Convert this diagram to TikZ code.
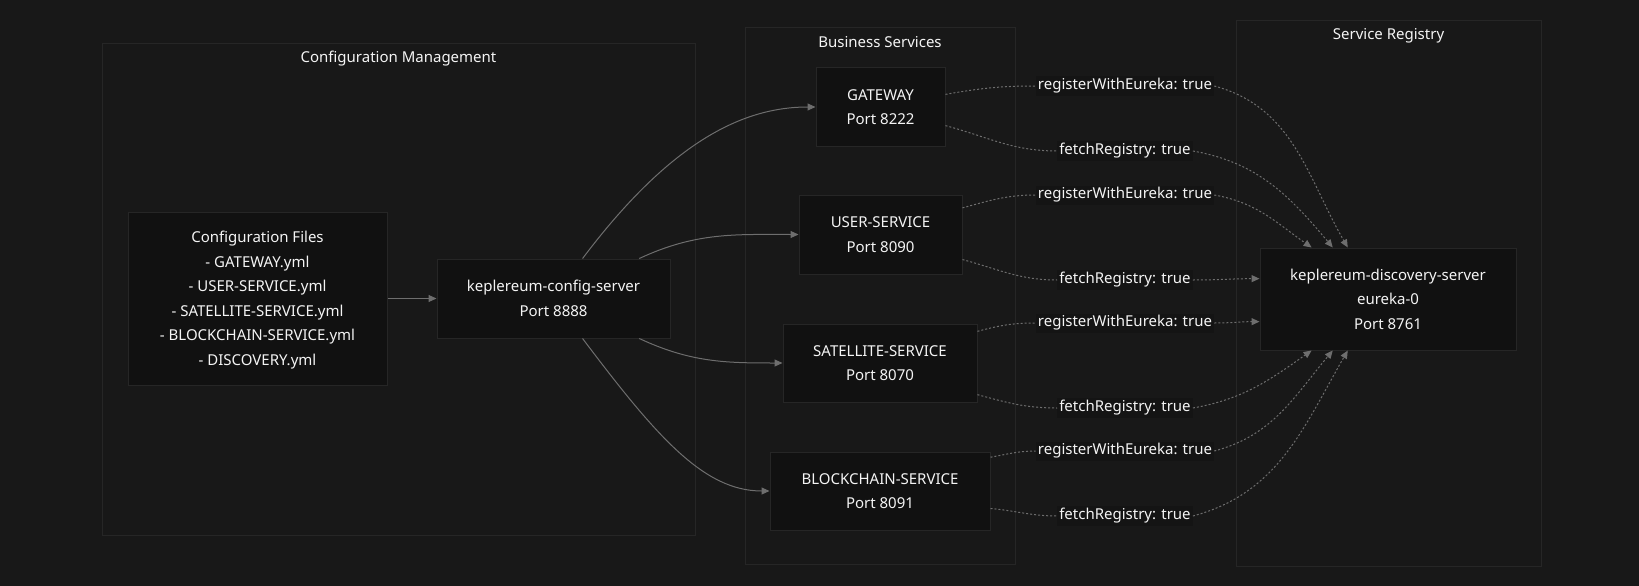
\documentclass[tikz,border=0pt]{standalone}
\usepackage{fontspec}
\setmainfont{Noto Sans}
\usetikzlibrary{positioning, arrows.meta}
\definecolor{bgc}{HTML}{181818}
\definecolor{boxc}{HTML}{111111}
\definecolor{edgec}{HTML}{262626}
\definecolor{linkc}{HTML}{6E6E6E}
\definecolor{txtc}{HTML}{F4F4F4}
\tikzset{
	x=1pt, y=1pt,
	>={Triangle[length=8pt,width=7pt]},
	txt/.style={text=txtc, font=\fontsize{15}{24.5}\selectfont, align=center},
	group/.style={draw=edgec, line width=1pt, inner sep=0pt},
	title/.style={txt, inner sep=0pt},
	svc/.style={txt, draw=edgec, fill=boxc, line width=1pt, inner sep=0pt, text depth=-3pt},
	lbl/.style={txt, fill=bgc!85!black, inner sep=2pt},
	link/.style={->, draw=linkc, line width=1pt},
	reglink/.style={link, dash pattern=on 2pt off 2pt},
	regpart/.style={reglink, -}}

\begin{document}
\begin{tikzpicture}

		\fill[bgc] (0,0) rectangle (1639,-586);
		\useasboundingbox (0,0) rectangle (1639,-586);

		\node[group, minimum width=593, minimum height=491] (cfg) at (398.5,-289.5) {};
		\node[group, minimum width=270, minimum height=536] (biz) at (880,-296) {};
		\node[group, minimum width=305, minimum height=545] (reg) at (1388.5,-293.5) {};
		\node[title] (cfgT) at ([yshift=-15pt]cfg.north) {Configuration Management};
		\node[title] (bizT) at ([yshift=-15pt]biz.north) {Business Services};
		\node[title] (regT) at ([yshift=-15pt]reg.north) {Service Registry};

		\node[svc, minimum width=259, minimum height=173] (files) at (257.5,-298.5) {Configuration Files\\- GATEWAY.yml\\- USER-SERVICE.yml\\- SATELLITE-SERVICE.yml\\- BLOCKCHAIN-SERVICE.yml\\- DISCOVERY.yml};
		\node[svc, minimum width=233, minimum height=79] (srv) at (553.5,-298.5) {keplereum-config-server\\Port 8888};

		\node[svc, minimum width=129, minimum height=78] (gw) at (880.5,-107) {GATEWAY\\Port 8222};
		\node[svc, minimum width=163, minimum height=79] (usr) at (880.5,-234.5) {USER-SERVICE\\Port 8090};
		\node[svc, minimum width=194, minimum height=78] (sat) at (880,-363) {SATELLITE-SERVICE\\Port 8070};
		\node[svc, minimum width=220, minimum height=78] (bc) at (880,-491) {BLOCKCHAIN-SERVICE\\Port 8091};

		\node[svc, minimum width=256, minimum height=102] (disc) at (1388,-299) {keplereum-discovery-server\\eureka-0\\Port 8761};

		\node[lbl] (r1) at (1125,-86) {registerWithEureka: true};
		\node[lbl] (f1) at (1125,-151) {fetchRegistry: true};
		\node[lbl] (r2) at (1125,-195) {registerWithEureka: true};
		\node[lbl] (f2) at (1125,-280) {fetchRegistry: true};
		\node[lbl] (r3) at (1125,-323) {registerWithEureka: true};
		\node[lbl] (f3) at (1125,-408) {fetchRegistry: true};
		\node[lbl] (r4) at (1125,-451) {registerWithEureka: true};
		\node[lbl] (f4) at (1125,-516) {fetchRegistry: true};

		\draw
		(files) edge[link] (srv)
		(srv.54) edge[link, out=53, in=180, out looseness=1.3, in looseness=0.7] (gw.west)
		(srv.25) edge[link, out=25, in=180] (usr.west)
		(srv.-25) edge[link, out=-25, in=180] (sat.west)
		(srv.-54) edge[link, out=-53, in=180, out looseness=1.3, in looseness=0.7] (bc.west)
		;

		\draw
		(gw.11) edge[regpart, out=10, in=180] (r1.west)
		(gw.-16) edge[regpart, out=-15, in=180] (f1.west)
		(usr.18) edge[regpart, out=15, in=180] (r2.west)
		(usr.-17) edge[regpart, out=-15, in=180] (f2.west)
		(sat.18) edge[regpart, out=15, in=180] (r3.west)
		(sat.-18) edge[regpart, out=-15, in=180] (f3.west)
		(bc.17) edge[regpart, out=10, in=180] (r4.west)
		(bc.-9) edge[regpart, out=-5, in=180] (f4.west)
		;
		\draw
		(r1.east) edge[reglink, out=-15, in=120] (disc.128)
		(f1.east) edge[reglink, out=-10, in=130] (disc.137)
		(r2.east) edge[reglink, out=-10, in=145] (disc.146)
		(f2.east) edge[reglink, out=0, in=180] (disc.171)
		(r3.east) edge[reglink, out=0, in=180] (disc.190)
		(f3.east) edge[reglink, out=10, in=-145] (disc.-146)
		(r4.east) edge[reglink, out=15, in=-130] (disc.-137)
		(f4.east) edge[reglink, out=15, in=-120] (disc.-128)
		;
	\end{tikzpicture}
\end{document}
